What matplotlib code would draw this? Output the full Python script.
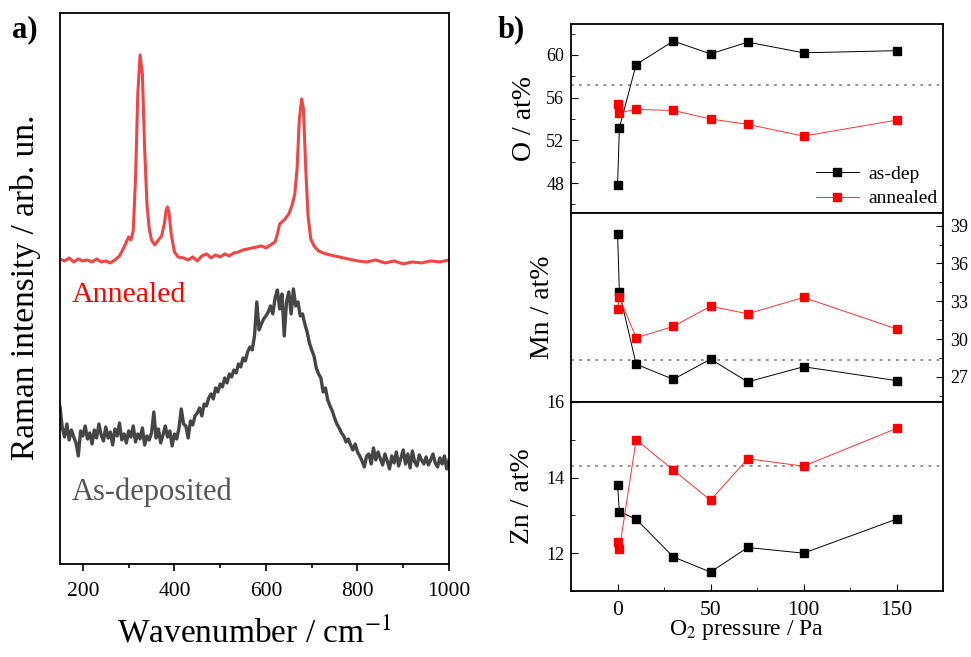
import matplotlib
matplotlib.use("Agg")
import matplotlib.pyplot as plt
import numpy as np
from matplotlib.ticker import MultipleLocator

plt.rcParams['font.family'] = ['Liberation Serif', 'DejaVu Serif']
plt.rcParams['mathtext.fontset'] = 'stix'

# ---- panel a) Raman spectra (arb. units, read off the picture) ----
wn_ann = [150, 160, 170, 180, 190, 200, 210, 220, 230, 240, 250, 260, 270, 280, 288, 295,
          300, 305, 310, 315, 320, 325, 330, 335, 340, 345, 350, 357, 365, 372, 378, 382,
          385, 388, 393, 400, 408, 420, 430, 440, 450, 460, 470, 480, 490, 500, 510, 520,
          530, 540, 550, 560, 570, 580, 590, 600, 610, 620, 625, 630, 640, 650, 658, 663,
          668, 673, 678, 682, 687, 692, 698, 705, 715, 725, 740, 760, 780, 800, 820, 840,
          860, 880, 900, 920, 940, 960, 980, 1000]
int_ann = [305, 303, 306, 302, 305, 303, 304, 302, 305, 302, 303, 301, 304, 308, 315, 322,
           327, 324, 333, 385, 470, 509, 490, 415, 360, 335, 324, 319, 324, 328, 340, 354,
           357, 352, 330, 312, 307, 306, 304, 307, 303, 308, 310, 306, 309, 307, 310, 308,
           311, 312, 314, 315, 316, 317, 318, 316, 319, 322, 330, 340, 344, 350, 360, 370,
           395, 445, 465, 455, 395, 348, 325, 318, 313, 311, 309, 307, 305, 303, 302, 304,
           301, 303, 300, 302, 301, 303, 302, 304]

wn_dep = list(range(150, 1001, 5))
int_dep = [157, 136, 127, 140, 124, 134, 127, 121, 108, 133,
           128, 138, 125, 131, 120, 134, 126, 140, 129, 123,
           137, 126, 132, 119, 135, 128, 141, 124, 130, 121,
           133, 127, 138, 122, 130, 125, 136, 119, 128, 124,
           131, 152, 126, 135, 121, 129, 138, 127, 133, 118,
           130, 125, 136, 155, 140, 138, 126, 143, 139, 148,
           151, 156, 148, 160, 158, 166, 170, 165, 176, 172,
           180, 177, 186, 181, 190, 187, 194, 191, 200, 197,
           206, 203, 212, 217, 214, 228, 262, 234, 240, 245,
           248, 252, 258, 250, 266, 274, 255, 270, 228, 262,
           272, 250, 275, 258, 262, 248, 250, 240, 232, 221,
           214, 208, 196, 190, 186, 172, 176, 164, 158, 153,
           146, 140, 136, 131, 128, 122, 125, 119, 114, 120,
           112, 108, 103, 97, 108, 110, 100, 116, 104, 112,
           105, 99, 110, 103, 95, 108, 101, 112, 98, 106,
           114, 100, 110, 96, 113, 102, 98, 109, 104, 100,
           107, 99, 104, 110, 101, 97, 106, 100, 108, 95,
           104]

# ---- panel b) composition vs O2 pressure ----
pressure = [0, 1, 10, 30, 50, 70, 100, 150]
O_dep = [47.8, 53.2, 59.1, 61.3, 60.1, 61.2, 60.2, 60.4]
O_ann = [55.4, 54.6, 54.9, 54.8, 54.0, 53.5, 52.4, 53.9]
Mn_dep = [38.35, 33.7, 28.0, 26.8, 28.4, 26.6, 27.8, 26.7]
Mn_ann = [32.35, 33.3, 30.1, 31.0, 32.6, 32.0, 33.3, 30.8]
Zn_dep = [13.8, 13.1, 12.9, 11.9, 11.5, 12.15, 12.0, 12.9]
Zn_ann = [12.3, 12.1, 15.0, 14.2, 13.4, 14.5, 14.3, 15.3]
ref_O, ref_Mn, ref_Zn = 57.2, 28.3, 14.3

fig = plt.figure(figsize=(9.71, 6.57), dpi=100)

# panel a
ax = fig.add_axes([0.0618, 0.1416, 0.4006, 0.8387])
ax.plot(wn_ann, int_ann, color='#f04545', lw=2.2)
ax.plot(wn_dep, int_dep, color='#454545', lw=2.4)
ax.set_xlim(150, 1000)
ax.set_ylim(0, 551)
ax.set_yticks([])
ax.xaxis.set_major_locator(MultipleLocator(200))
ax.xaxis.set_minor_locator(MultipleLocator(100))
ax.tick_params(axis='x', which='major', direction='out', length=5, width=1.2, labelsize=15.5, pad=8)
ax.tick_params(axis='x', which='minor', direction='out', length=3, width=1.2)
for s in ax.spines.values():
    s.set_linewidth(1.3)
ax.set_xlabel('Wavenumber / cm$^{-1}$', fontsize=24)
ax.xaxis.set_label_coords(0.5, -0.097)
ax.set_ylabel('Raman intensity / arb. un.', fontsize=24)
ax.yaxis.set_label_coords(-0.05, 0.503)
ax.text(176, 269, 'Annealed', color='red', fontsize=21.5, va='center', ha='left')
ax.text(176, 72, 'As-deposited', color='#555555', fontsize=22, va='center', ha='left')
fig.text(0.012, 0.955, 'a)', fontsize=22, fontweight='bold', va='center')
fig.text(0.512, 0.955, 'b)', fontsize=22, fontweight='bold', va='center')

# panel b
x0, w, h = 0.5881, 0.3831, 0.2877
axO = fig.add_axes([x0, 0.6758, w, h])
axMn = fig.add_axes([x0, 0.3881, w, h])
axZn = fig.add_axes([x0, 0.1005, w, h])

def draw(a, dep, ann, ref):
    a.axhline(ref, color='#888888', ls=(0, (1.5, 3)), lw=1.3, zorder=1)
    a.plot(pressure, dep, color='black', lw=0.7, marker='s', ms=5.2, mec='black', label='as-dep')
    a.plot(pressure, ann, color='#ff3030', lw=0.7, marker='s', ms=5.2, mfc='red', mec='red', label='annealed')
    a.set_xlim(-25, 175)
    a.xaxis.set_major_locator(MultipleLocator(50))
    a.xaxis.set_minor_locator(MultipleLocator(25))
    for s in a.spines.values():
        s.set_linewidth(1.3)

draw(axO, O_dep, O_ann, ref_O)
draw(axMn, Mn_dep, Mn_ann, ref_Mn)
draw(axZn, Zn_dep, Zn_ann, ref_Zn)

axO.set_ylim(45.2, 62.9)
axO.yaxis.set_major_locator(MultipleLocator(4))
axO.yaxis.set_minor_locator(MultipleLocator(2))
axO.tick_params(axis='y', which='both', direction='in', labelsize=13, pad=5)
axO.tick_params(axis='y', which='major', length=5)
axO.tick_params(axis='y', which='minor', length=3)
axO.tick_params(axis='x', which='both', bottom=False, labelbottom=False)
axO.set_ylabel('O / at%', fontsize=20)
axO.yaxis.set_label_coords(-0.092, 0.5)
axO.legend(loc='lower right', frameon=False, fontsize=14, handlelength=2.2,
           handletextpad=0.5, borderaxespad=0.3, labelspacing=0.35,
           bbox_to_anchor=(1.022, -0.042))

axMn.set_ylim(25, 40)
axMn.yaxis.set_major_locator(MultipleLocator(3))
axMn.yaxis.set_minor_locator(MultipleLocator(1.5))
axMn.tick_params(axis='y', which='both', direction='in', left=False, labelleft=False,
                 right=True, labelright=True, labelsize=13, pad=5)
axMn.tick_params(axis='y', which='major', length=5)
axMn.tick_params(axis='y', which='minor', length=3)
axMn.tick_params(axis='x', which='both', bottom=False, labelbottom=False)
axMn.set_ylabel('Mn / at%', fontsize=20)
axMn.yaxis.set_label_position('left')
axMn.yaxis.set_label_coords(-0.043, 0.5)

axZn.set_ylim(11, 16)
axZn.yaxis.set_major_locator(MultipleLocator(2))
axZn.yaxis.set_minor_locator(MultipleLocator(1))
axZn.tick_params(axis='both', which='both', direction='in', labelsize=13)
axZn.tick_params(axis='y', pad=5)
axZn.tick_params(axis='both', which='major', length=5)
axZn.tick_params(axis='both', which='minor', length=3)
axZn.tick_params(axis='x', labelsize=15.5, pad=7)
axZn.set_ylabel('Zn / at%', fontsize=20)
axZn.yaxis.set_label_coords(-0.097, 0.5)
axZn.set_xlabel('O$_2$ pressure / Pa', fontsize=17)
axZn.xaxis.set_label_coords(0.473, -0.143)

fig.savefig('out.png', dpi=100)
